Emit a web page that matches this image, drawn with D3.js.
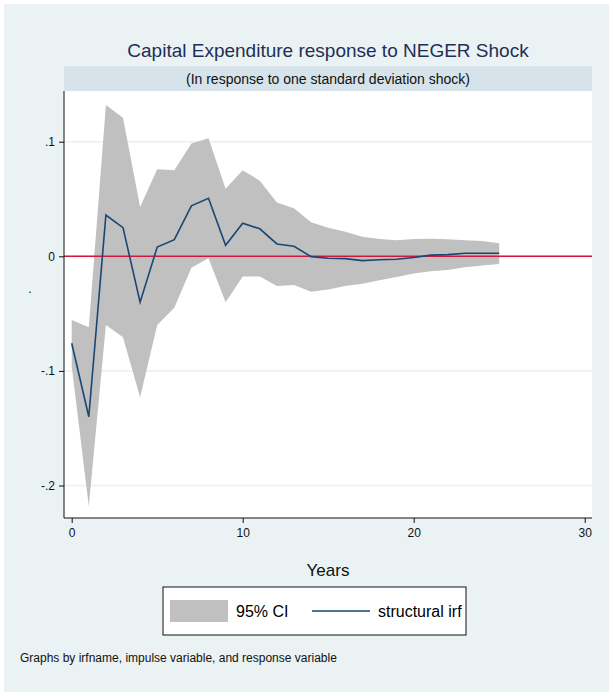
<!DOCTYPE html>
<html><head><meta charset="utf-8">
<script src="https://d3js.org/d3.v7.min.js"></script>
<style>body{margin:0;background:#fff}text{font-family:"Liberation Sans Narrow","Liberation Sans",Arial,sans-serif}</style>
</head><body>
<script>
const years = d3.range(0, 26);
const irf = [-0.0759,-0.140,0.036,0.025,-0.040,0.008,0.0145,0.044,0.0506,0.0096,0.0288,0.024,0.0108,0.0087,-0.0003,-0.0017,-0.002,-0.0038,-0.003,-0.0026,-0.001,0.001,0.0015,0.0026,0.0026,0.0026];
const upper = [-0.0555,-0.062,0.132,0.121,0.043,0.076,0.075,0.0985,0.103,0.059,0.075,0.066,0.047,0.042,0.0297,0.025,0.0215,0.017,0.015,0.014,0.015,0.0154,0.0148,0.014,0.0134,0.0113];
const lower = [-0.096,-0.218,-0.060,-0.0706,-0.123,-0.060,-0.045,-0.0099,-0.0017,-0.040,-0.0177,-0.0177,-0.026,-0.025,-0.031,-0.029,-0.026,-0.024,-0.021,-0.018,-0.015,-0.013,-0.012,-0.0096,-0.008,-0.0067];
const xTicks = [0, 10, 20, 30];
const yTicks = [-0.2, -0.1, 0, 0.1];
const yLabels = ["-.2", "-.1", "0", ".1"];

const W = 613, H = 696;
const svg = d3.select("body").append("svg").attr("width", W).attr("height", H);
svg.append("rect").attr("x", 4).attr("y", 4).attr("width", W - 8).attr("height", H - 8).attr("fill", "#eaf2f3");

const L = 64, R = 592, T = 91, B = 518;
const x = d3.scaleLinear().domain([0, 30]).range([71.7, 584.7]);
const y = d3.scaleLinear().domain([0, 0.1]).range([256.3, 141.7]);

svg.append("text").attr("x", (L + R) / 2).attr("y", 57).attr("text-anchor", "middle")
  .attr("font-size", 19).attr("fill", "#1e2f57").text("Capital Expenditure response to NEGER Shock");
svg.append("rect").attr("x", L).attr("y", 66).attr("width", R - L).attr("height", 25).attr("fill", "#d6e3ea");
svg.append("text").attr("x", (L + R) / 2).attr("y", 84).attr("text-anchor", "middle")
  .attr("font-size", 14).attr("fill", "#111").text("(In response to one standard deviation shock)");

svg.append("rect").attr("x", L).attr("y", T).attr("width", R - L).attr("height", B - T).attr("fill", "#fff");
svg.append("g").selectAll("line").data(yTicks).join("line")
  .attr("x1", L).attr("x2", R).attr("y1", d => y(d)).attr("y2", d => y(d))
  .attr("stroke", "#e9f0f1").attr("stroke-width", 1.5);

const area = d3.area().x((d, i) => x(years[i])).y0((d, i) => y(lower[i])).y1((d, i) => y(upper[i]));
svg.append("path").datum(irf).attr("d", area).attr("fill", "#c0c0c0");
svg.append("line").attr("x1", L).attr("x2", R).attr("y1", y(0)).attr("y2", y(0)).attr("stroke", "#d1183a").attr("stroke-width", 1.5);
const line = d3.line().x((d, i) => x(years[i])).y(d => y(d));
svg.append("path").datum(irf).attr("d", line).attr("fill", "none").attr("stroke", "#1a4772").attr("stroke-width", 1.6);

const yAxis = svg.append("g").attr("transform", `translate(${L},0)`)
  .call(d3.axisLeft(y).tickValues(yTicks).tickFormat((d, i) => yLabels[i]).tickSize(5).tickPadding(4));
const xAxis = svg.append("g").attr("transform", `translate(0,${B})`)
  .call(d3.axisBottom(x).tickValues(xTicks).tickSize(5).tickPadding(5));
[yAxis, xAxis].forEach(a => {
  a.select(".domain").remove();
  a.selectAll("text").attr("font-size", 12).attr("fill", "#111");
  a.selectAll("line").attr("stroke", "#111");
});
svg.append("line").attr("x1", L).attr("x2", L).attr("y1", T).attr("y2", B).attr("stroke", "#111");
svg.append("line").attr("x1", L).attr("x2", R).attr("y1", B).attr("y2", B).attr("stroke", "#111");

svg.append("text").attr("x", (L + R) / 2).attr("y", 576).attr("text-anchor", "middle").attr("font-size", 17).attr("fill", "#111").text("Years");
svg.append("text").attr("x", 30).attr("y", 293).attr("text-anchor", "middle").attr("font-size", 12).text(".");

const lg = svg.append("g");
lg.append("rect").attr("x", 163).attr("y", 587).attr("width", 303).attr("height", 48).attr("fill", "#fff").attr("stroke", "#111");
lg.append("rect").attr("x", 170).attr("y", 600).attr("width", 58).attr("height", 22).attr("fill", "#c0c0c0");
lg.append("text").attr("x", 236).attr("y", 617).attr("font-size", 16).text("95% CI");
lg.append("line").attr("x1", 312).attr("x2", 370).attr("y1", 611).attr("y2", 611).attr("stroke", "#1a4772").attr("stroke-width", 1.6);
lg.append("text").attr("x", 378).attr("y", 617).attr("font-size", 16).text("structural irf");

svg.append("text").attr("x", 20).attr("y", 662).attr("font-size", 12).attr("fill", "#111").text("Graphs by irfname, impulse variable, and response variable");
</script>
</body></html>
